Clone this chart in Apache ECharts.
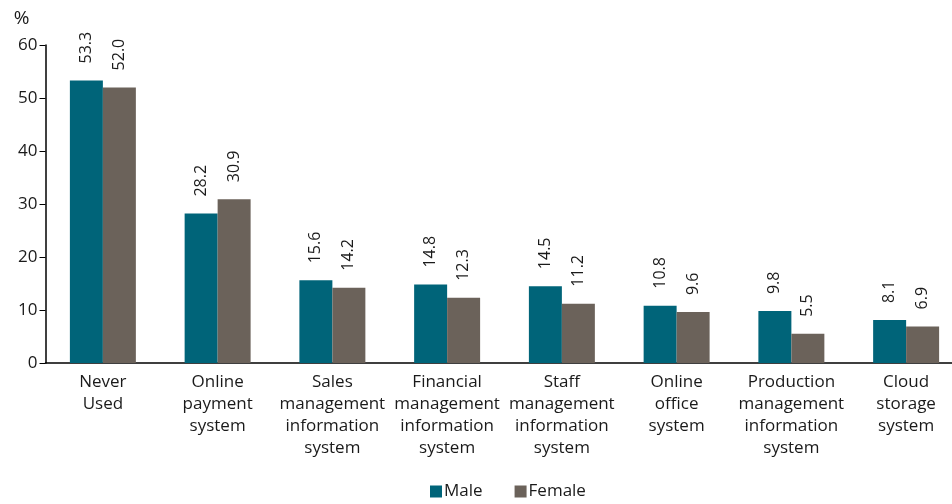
<!DOCTYPE html>
<html><head><meta charset="utf-8">
<script src="https://cdn.jsdelivr.net/npm/echarts@6/dist/echarts.min.js"></script>
<style>html,body{margin:0;padding:0;background:#fff}#c{width:952px;height:504px}</style>
</head><body><div id="c"></div>
<script>
const categories = ["Never\nUsed","Online\npayment\nsystem","Sales\nmanagement\ninformation\nsystem","Financial\nmanagement\ninformation\nsystem","Staff\nmanagement\ninformation\nsystem","Online\noffice\nsystem","Production\nmanagement\ninformation\nsystem","Cloud\nstorage\nsystem"];
const male = [53.3,28.2,15.6,14.8,14.5,10.8,9.8,8.1];
const female = [52.0,30.9,14.2,12.3,11.2,9.6,5.5,6.9];
const yTicks = {min:0,max:60,interval:10};
const FONT = "Open Sans";
const chart = echarts.init(document.getElementById('c'));
const lbl = {show:true,position:'top',rotate:90,align:'left',verticalAlign:'middle',distance:17,color:'#1a1a1a',fontSize:16,fontFamily:FONT,formatter:p=>p.value.toFixed(1)};
chart.setOption({
  animation:false,
  textStyle:{fontFamily:FONT},
  legend:{top:478,left:425,itemWidth:12,itemHeight:12,itemGap:32,icon:'rect',textStyle:{fontSize:17,color:'#1a1a1a',fontFamily:FONT,padding:[0,0,0,-3]},data:['Male','Female']},
  grid:{left:45.5,top:45,width:918,height:318,containLabel:false,outerBoundsMode:'none'},
  xAxis:{type:'category',data:categories,axisLine:{lineStyle:{color:'#000',width:1.5}},axisTick:{show:false},
    axisLabel:{interval:0,color:'#1a1a1a',fontSize:17,fontFamily:FONT,lineHeight:22,margin:8}},
  yAxis:{type:'value',min:yTicks.min,max:yTicks.max,interval:yTicks.interval,name:'%',nameLocation:'end',nameGap:17,
    nameTextStyle:{fontSize:19,color:'#1a1a1a',align:'right',padding:[0,16,0,0]},
    axisLine:{show:true,lineStyle:{color:'#000',width:1.5}},axisTick:{show:true,length:6,lineStyle:{color:'#000'}},
    splitLine:{show:false},axisLabel:{color:'#1a1a1a',fontSize:17,fontFamily:FONT,margin:8}},
  series:[
    {name:'Male',type:'bar',data:male,barGap:'0%',barCategoryGap:'42.5%',itemStyle:{color:'#006479'},label:lbl},
    {name:'Female',type:'bar',data:female,itemStyle:{color:'#6b625a'},label:lbl}
  ]
});
</script></body></html>
